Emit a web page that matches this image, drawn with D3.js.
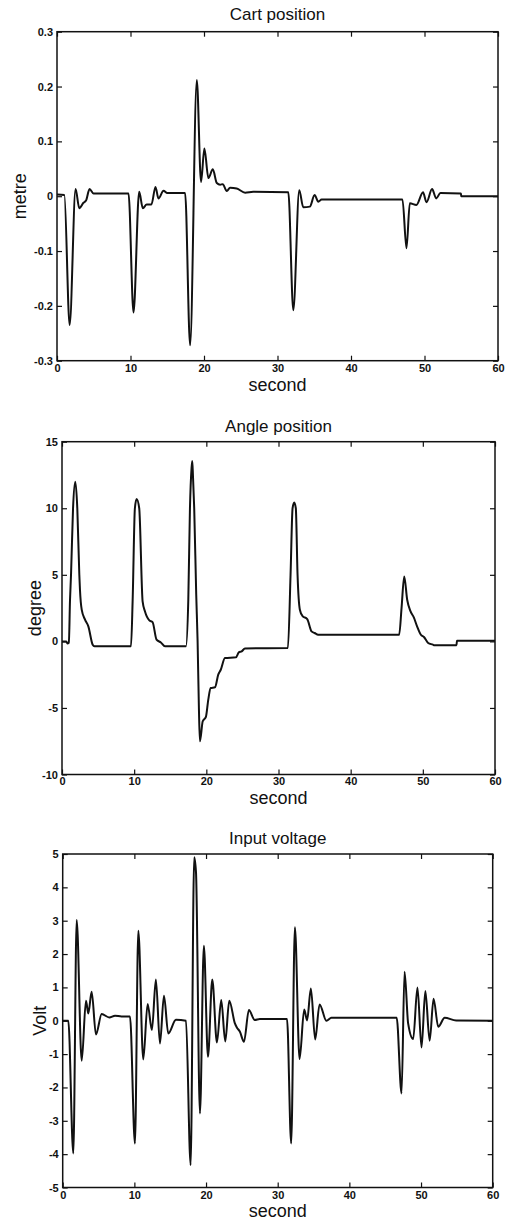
<!DOCTYPE html>
<html>
<head>
<meta charset="utf-8">
<script src="https://cdn.jsdelivr.net/npm/d3@7"></script>
<style>
  body { margin: 0; background: #fff; }
  svg { display: block; font-family: "Liberation Sans", Arial, Helvetica, sans-serif; }
  .tick-label { font-size: 11px; font-weight: bold; fill: #111; }
  .title { font-size: 17px; fill: #111; }
  .axis-label { font-size: 18px; fill: #111; }
</style>
</head>
<body>
<svg id="chart" width="507" height="1222"></svg>
<script>
// time axis ticks (shared)
const timeTicks = [0, 10, 20, 30, 40, 50, 60];

// Cart position [second, metre]
const cartPosition = [
  [0, 0.003], [1.0, 0.002], [1.72, -0.235], [2.53, 0.013], [3.03, -0.022], [3.6, -0.012],
  [3.95, -0.008], [4.43, 0.013], [4.97, 0.005], [9.73, 0.005], [10.41, -0.212], [11.18, 0.008],
  [11.68, -0.022], [12.2, -0.015], [12.85, -0.015], [13.4, 0.017], [13.8, -0.004], [14.5, 0.010],
  [14.95, 0.006], [17.43, 0.006], [18.11, -0.272], [19.02, 0.212], [19.6, 0.026], [20.05, 0.087],
  [20.6, 0.033], [21.2, 0.049], [21.74, 0.024], [22.2, 0.021], [22.55, 0.022], [23.1, 0.0095],
  [23.55, 0.0155], [24.45, 0.014], [25.6, 0.0065], [26.7, 0.008], [31.47, 0.007], [32.15, -0.208],
  [32.96, 0.011], [33.5, -0.02], [34.4, -0.019], [35.05, 0.002], [35.55, -0.01], [36.0, -0.006],
  [47.0, -0.006], [47.55, -0.095], [48.0, -0.013], [48.9, -0.016], [49.8, 0.007], [50.27, -0.011],
  [51.03, 0.013], [51.6, -0.004], [52.17, 0.006], [54.95, 0.005], [55.0, 0.0], [60, 0.0]
];
const cartTicks = [-0.3, -0.2, -0.1, 0, 0.1, 0.2, 0.3];

// Angle position [second, degree]
const anglePosition = [
  [0, 0], [0.6, 0], [0.75, -0.15], [0.95, -0.1], [1.11, 3.1], [1.25, 5], [1.53, 10], [1.84, 12.0],
  [2.12, 10], [2.4, 5], [2.49, 3.88], [2.73, 2.38], [3.19, 1.63], [3.65, 1.13], [4.25, -0.25],
  [4.5, -0.37], [9.56, -0.37], [9.79, 3.1], [10.1, 10], [10.34, 10.7], [10.7, 10], [11.17, 3.0],
  [11.5, 2.25], [12.1, 1.58], [12.55, 1.45], [13.1, 0.13], [13.7, -0.08], [14.27, -0.37],
  [17.17, -0.37], [17.5, 3.1], [17.73, 10], [17.95, 13.0], [18.05, 13.55], [18.15, 12.4],
  [18.32, 10], [18.6, 3.5], [18.79, 0], [18.97, -5], [19.11, -7.5], [19.5, -6.0], [19.94, -5.67],
  [20.27, -4.37], [20.6, -3.5], [21.2, -3.45], [21.65, -2.5], [22.0, -2.13], [22.58, -1.25],
  [24.1, -1.2], [24.5, -0.83], [24.9, -0.75], [25.35, -0.53], [31.3, -0.5], [31.67, 5.0],
  [31.95, 10], [32.18, 10.43], [32.4, 10], [32.64, 5], [32.96, 2.38], [33.33, 1.9], [33.98, 1.68],
  [34.58, 0.75], [35.0, 0.63], [35.5, 0.5], [46.72, 0.5], [47.05, 2.5], [47.42, 4.88],
  [47.83, 3.13], [48.3, 2.25], [48.75, 1.8], [49.2, 1.13], [49.73, 0.5], [50.15, 0.33],
  [50.74, -0.12], [51.4, -0.25], [51.6, -0.3], [54.67, -0.3], [54.72, 0.05], [60, 0.05]
];
const angleTicks = [-10, -5, 0, 5, 10, 15];

// Input voltage [second, Volt]
const inputVoltage = [
  [0, 0], [0.78, 0], [1.48, -3.98], [1.95, 3.02], [2.65, -1.2], [3.25, 0.6], [3.57, 0.22],
  [4.04, 0.87], [4.64, -0.41], [5.44, 0.2], [6.5, 0.1], [7.3, 0.15], [8.2, 0.13], [9.39, 0.13],
  [10.08, -3.68], [10.55, 2.7], [11.24, -1.16], [11.85, 0.5], [12.45, -0.28], [13.0, 1.24],
  [13.57, -0.68], [14.13, 0.75], [14.73, -0.38], [15.8, 0.03], [17.2, 0], [17.85, -4.33],
  [18.35, 4.9], [18.6, 4.45], [19.15, -2.78], [19.7, 2.25], [20.27, -1.08], [20.87, 1.24],
  [21.52, -0.65], [22.12, 0.62], [22.68, -0.62], [23.24, 0.6], [24.03, -0.08], [24.3, -0.2],
  [24.73, -0.33], [25.29, -0.63], [25.98, 0.32], [26.8, 0.02], [27.5, 0.05], [31.3, 0.05],
  [31.88, -3.68], [32.4, 2.8], [33.05, -1.15], [33.7, 0.34], [34.1, 0.01], [34.63, 0.97],
  [35.23, -0.56], [35.84, 0.49], [36.8, 0.0], [37.5, 0.09], [46.6, 0.09], [47.28, -2.18],
  [47.7, 1.47], [48.2, -0.08], [48.9, -0.55], [49.5, 1.0], [50.07, -0.8], [50.6, 0.89],
  [51.2, -0.6], [51.75, 0.66], [52.4, -0.18], [53.3, 0.09], [54.9, 0.01], [60, 0]
];
const voltTicks = [-5, -4, -3, -2, -1, 0, 1, 2, 3, 4, 5];

// matlab style labels: plain hyphen, bare "0"
const fmtDec = d => d === 0 ? '0' : d3.format('.1f')(d).replace('−', '-');
const fmtInt = d => String(d);

const panels = [
  {title: 'Cart position', ylabel: 'metre', data: cartPosition, ticks: cartTicks, fmt: fmtDec,
   left: 57, right: 498, top: 31.7, bottom: 360.7, titleY: 20, xlabelY: 391, ylabelX: 20, xPad: 3.5},
  {title: 'Angle position', ylabel: 'degree', data: anglePosition, ticks: angleTicks, fmt: fmtInt,
   left: 62, right: 495, top: 441.7, bottom: 774.5, titleY: 432, xlabelY: 804, ylabelX: 35, xPad: 3},
  {title: 'Input voltage', ylabel: 'Volt', data: inputVoltage, ticks: voltTicks, fmt: fmtInt,
   left: 62.7, right: 492.7, top: 854, bottom: 1187.5, titleY: 844, xlabelY: 1217, ylabelX: 40, xPad: 3.5}
];

const svg = d3.select('#chart');
const tickLen = 5;

panels.forEach(p => {
  const x = d3.scaleLinear().domain([0, 60]).range([p.left, p.right]);
  const y = d3.scaleLinear().domain(d3.extent(p.ticks)).range([p.bottom, p.top]);
  const g = svg.append('g');

  // inward ticks on all four sides
  g.append('g')
    .attr('transform', `translate(0,${p.bottom})`)
    .call(d3.axisBottom(x).tickValues(timeTicks).tickSize(-tickLen).tickPadding(p.xPad).tickFormat(fmtInt))
    .call(a => a.select('.domain').remove());
  g.append('g')
    .attr('transform', `translate(0,${p.top})`)
    .call(d3.axisTop(x).tickValues(timeTicks).tickSize(-tickLen).tickFormat(''))
    .call(a => a.select('.domain').remove());
  g.append('g')
    .attr('transform', `translate(${p.left},0)`)
    .call(d3.axisLeft(y).tickValues(p.ticks).tickSize(-tickLen).tickPadding(4).tickFormat(p.fmt))
    .call(a => a.select('.domain').remove());
  g.append('g')
    .attr('transform', `translate(${p.right},0)`)
    .call(d3.axisRight(y).tickValues(p.ticks).tickSize(-tickLen).tickFormat(''))
    .call(a => a.select('.domain').remove());

  g.selectAll('.tick line').attr('stroke', '#111').attr('stroke-width', 1.2);
  g.selectAll('.tick text').attr('class', 'tick-label').attr('font-size', null).attr('font-family', null);

  g.append('rect')
    .attr('x', p.left).attr('y', p.top)
    .attr('width', p.right - p.left).attr('height', p.bottom - p.top)
    .attr('fill', 'none').attr('stroke', '#111').attr('stroke-width', 1.5);

  const line = d3.line()
    .x(d => x(d[0]))
    .y(d => y(d[1]))
    .curve(d3.curveMonotoneX);

  g.append('path')
    .datum(p.data)
    .attr('d', line)
    .attr('fill', 'none')
    .attr('stroke', '#111')
    .attr('stroke-width', 2)
    .attr('stroke-linejoin', 'round');

  g.append('text')
    .attr('class', 'title')
    .attr('x', (p.left + p.right) / 2)
    .attr('y', p.titleY)
    .attr('text-anchor', 'middle')
    .text(p.title);

  g.append('text')
    .attr('class', 'axis-label')
    .attr('x', (p.left + p.right) / 2)
    .attr('y', p.xlabelY)
    .attr('text-anchor', 'middle')
    .text('second');

  g.append('text')
    .attr('class', 'axis-label')
    .attr('transform', `translate(${p.ylabelX},${(p.top + p.bottom) / 2}) rotate(-90)`)
    .attr('text-anchor', 'middle')
    .attr('dy', '0.35em')
    .text(p.ylabel);
});
</script>
</body>
</html>
